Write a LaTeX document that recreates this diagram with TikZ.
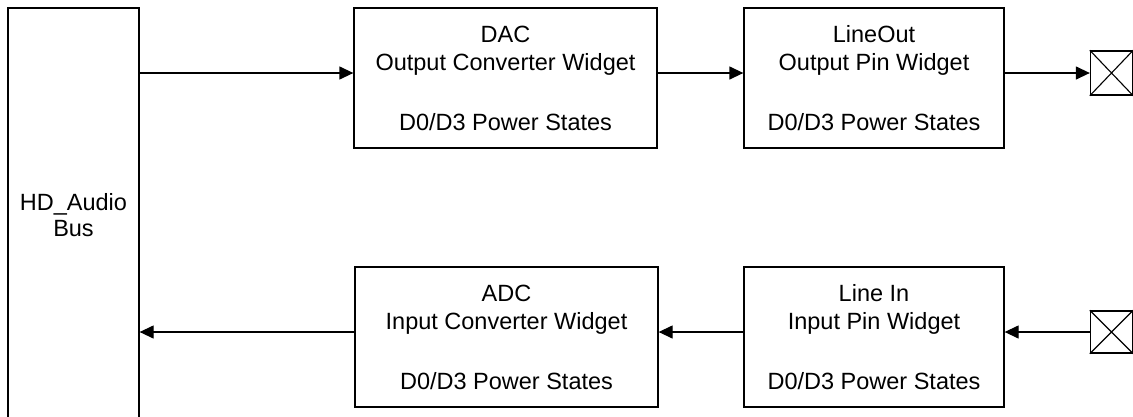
\documentclass[tikz,border=0pt]{standalone}
\usepackage{fontspec}
\setmainfont{Liberation Sans}
\usetikzlibrary{arrows.meta}
\begin{document}
\begin{tikzpicture}[x=1pt,y=-1pt,
  every node/.style={font=\fontsize{23.5}{28.5}\selectfont},
  blk/.style={draw,line width=1.3pt,inner sep=0pt,align=center},
  pin/.style={draw,line width=1.3pt,inner sep=0pt},
  conn/.style={line width=1.3pt,-{Triangle[length=14pt,width=13pt]}}]
\useasboundingbox (0,0) rectangle (1133,416);
\node[blk,minimum width=131pt,minimum height=414pt] (hd) at (73.5,215) {HD\_Audio\\[-2.5pt]Bus};
\node[blk,minimum width=303pt,minimum height=140pt] (dac) at (505.5,78) {DAC\\Output Converter Widget\\[31pt]D0/D3 Power States};
\node[blk,minimum width=260pt,minimum height=140pt] (lo) at (874,78) {LineOut\\Output Pin Widget\\[31pt]D0/D3 Power States};
\node[blk,minimum width=303pt,minimum height=140pt] (adc) at (506.5,337) {ADC\\Input Converter Widget\\[31pt]D0/D3 Power States};
\node[blk,minimum width=260pt,minimum height=140pt] (li) at (874,337) {Line In\\Input Pin Widget\\[31pt]D0/D3 Power States};
\node[pin,minimum width=42pt,minimum height=44pt] (xo) at (1111.5,73) {};
\node[pin,minimum width=42pt,minimum height=42pt] (xi) at (1111.5,332) {};
\draw[line width=1.1pt] (xo.north west) -- (xo.south east) (xo.south west) -- (xo.north east);
\draw[line width=1.1pt] (xi.north west) -- (xi.south east) (xi.south west) -- (xi.north east);
\draw[conn] (hd.east |- xo.west) -- (dac.west |- xo.west);
\draw[conn] (dac.east |- xo.west) -- (lo.west |- xo.west);
\draw[conn] (lo.east |- xo.west) -- (xo.west);
\draw[conn] (xi.west) -- (li.east |- xi.west);
\draw[conn] (li.west |- xi.west) -- (adc.east |- xi.west);
\draw[conn] (adc.west |- xi.west) -- (hd.east |- xi.west);
\end{tikzpicture}
\end{document}
